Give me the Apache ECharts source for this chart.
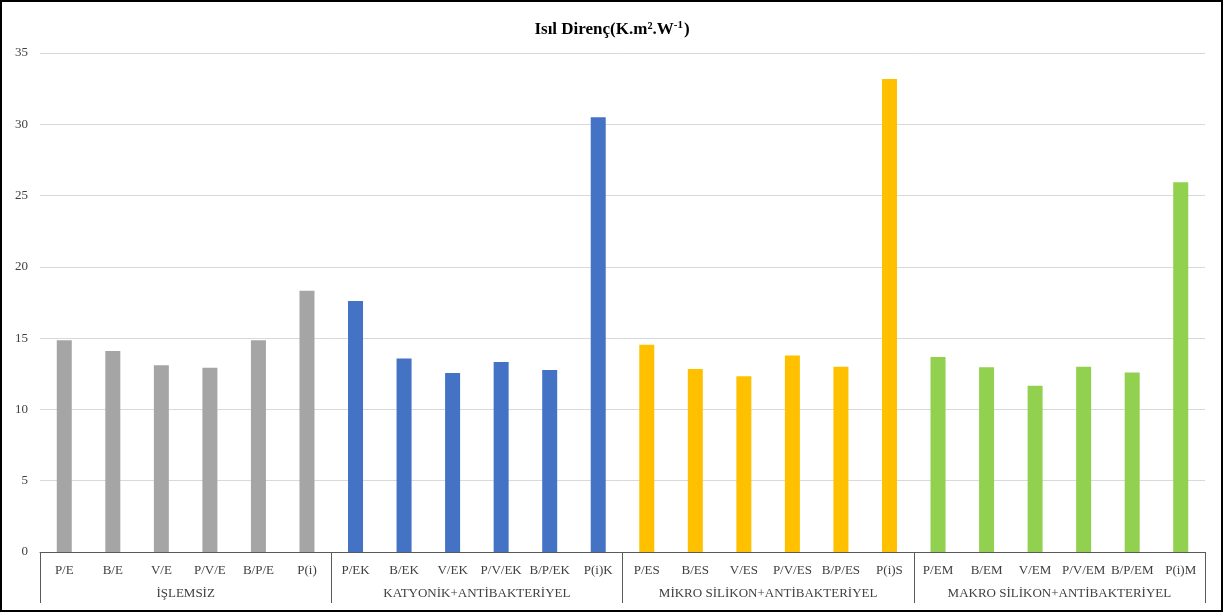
<!DOCTYPE html>
<html>
<head>
<meta charset="utf-8">
<script src="https://cdn.jsdelivr.net/npm/echarts@6/dist/echarts.min.js"></script>
<style>
html,body{margin:0;padding:0;background:#fff;}
#chart{width:1224px;height:613px;}
</style>
</head>
<body>
<div id="chart"></div>
<script>
const titleMain = 'Isıl Direnç(K.m².W';
const titleSup = '-1';
const titleEnd = ')';
const groupNames = ['İŞLEMSİZ', 'KATYONİK+ANTİBAKTERİYEL', 'MİKRO SİLİKON+ANTİBAKTERİYEL', 'MAKRO SİLİKON+ANTİBAKTERİYEL'];
const catsIslemsiz = ['P/E', 'B/E', 'V/E', 'P/V/E', 'B/P/E', 'P(i)'];
const catsKatyonik = ['P/EK', 'B/EK', 'V/EK', 'P/V/EK', 'B/P/EK', 'P(i)K'];
const catsMikro = ['P/ES', 'B/ES', 'V/ES', 'P/V/ES', 'B/P/ES', 'P(i)S'];
const catsMakro = ['P/EM', 'B/EM', 'V/EM', 'P/V/EM', 'B/P/EM', 'P(i)M'];
const valsIslemsiz = [14.85, 14.1, 13.1, 12.92, 14.85, 18.33];
const valsKatyonik = [17.6, 13.58, 12.55, 13.32, 12.76, 30.49];
const valsMikro = [14.54, 12.83, 12.32, 13.79, 12.99, 33.17];
const valsMakro = [13.67, 12.95, 11.66, 12.99, 12.59, 25.94];
const groupColors = ['#a5a5a5', '#4472c4', '#ffc000', '#92d050'];
const yTicks = [0, 5, 10, 15, 20, 25, 30, 35];

const groupCats = [catsIslemsiz, catsKatyonik, catsMikro, catsMakro];
const groupVals = [valsIslemsiz, valsKatyonik, valsMikro, valsMakro];
const categories = [].concat(...groupCats);
const data = [];
groupVals.forEach((vals, g) => vals.forEach(v => data.push({value: v, itemStyle: {color: groupColors[g]}})));

const font = 'Liberation Serif, Times New Roman, serif';
const chart = echarts.init(document.getElementById('chart'));
chart.setOption({
  animation: false,
  title: {
    text: '{m|' + titleMain + '}{s|' + titleSup + '}{m|' + titleEnd + '}',
    left: 'center', top: 15,
    textStyle: {
      fontFamily: font, fontWeight: 'bold', fontSize: 17, color: '#000',
      rich: {
        m: {fontFamily: font, fontWeight: 'bold', fontSize: 17, color: '#000', lineHeight: 20},
        s: {fontFamily: font, fontWeight: 'bold', fontSize: 11, color: '#000', lineHeight: 20, verticalAlign: 'top', padding: [0, 1, 8, 0]}
      }
    }
  },
  graphic: [{
    type: 'rect', shape: {x: 1, y: 1, width: 1221, height: 610},
    style: {fill: 'none', stroke: '#000', lineWidth: 2}, silent: true
  }],
  grid: {left: 40, right: 19, top: 53, bottom: 61, containLabel: false},
  xAxis: [{
    type: 'category', data: categories, position: 'bottom',
    axisLine: {show: true, lineStyle: {color: '#595959', width: 1}},
    axisTick: {show: false},
    axisLabel: {interval: 0, margin: 12, fontFamily: font, fontSize: 13, color: '#404040'}
  }, {
    type: 'category', data: groupNames, position: 'bottom',
    axisLine: {show: false},
    axisTick: {show: true, length: 51, interval: 0, lineStyle: {color: '#595959', width: 1}},
    axisLabel: {interval: 0, margin: 35, fontFamily: font, fontSize: 13, color: '#404040'}
  }],
  yAxis: {
    type: 'value', min: yTicks[0], max: yTicks[yTicks.length - 1], interval: 5,
    axisLine: {show: false}, axisTick: {show: false},
    axisLabel: {margin: 12, fontFamily: font, fontSize: 13, color: '#404040'},
    splitLine: {lineStyle: {color: '#d9d9d9', width: 1}}
  },
  series: [{
    type: 'bar', data: data, barWidth: 15, xAxisIndex: 0
  }]
});
</script>
</body>
</html>
